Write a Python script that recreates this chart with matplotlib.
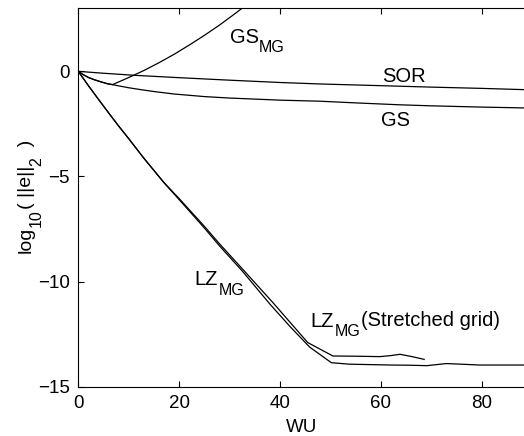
import matplotlib
matplotlib.use("Agg")
import matplotlib.pyplot as plt

plt.rcParams['font.family'] = ['Liberation Sans', 'DejaVu Sans']

# SOR
sor_x = [0, 5, 11.3, 19.1, 30, 40, 47.9, 59.8, 70, 80, 88.4]
sor_y = [0, -0.09, -0.19, -0.29, -0.42, -0.53, -0.60, -0.68, -0.75, -0.81, -0.87]

# GS
gs_x = [0, 1, 2, 3.2, 4.5, 5.8, 7.8, 10, 12.4, 15, 19.1, 25, 30, 40, 47.9, 55, 59.8, 63.6, 70, 80, 88.4]
gs_y = [0, -0.16, -0.29, -0.40, -0.50, -0.59, -0.68, -0.78, -0.87, -0.96, -1.08, -1.20, -1.27,
        -1.37, -1.42, -1.50, -1.55, -1.59, -1.64, -1.70, -1.74]

# GS multigrid
gsmg_x = [0, 1, 2, 3.2, 4.5, 5.8, 6.8, 9, 11, 13, 16, 19, 22, 25, 28, 31, 34]
gsmg_y = [0, -0.16, -0.29, -0.40, -0.50, -0.59, -0.63, -0.40, -0.185, 0.04, 0.41, 0.81, 1.25,
          1.71, 2.20, 2.73, 3.28]

# LZ multigrid
lz_x = [0, 2, 4, 6, 8, 10, 12.9, 14.1, 17, 20, 25, 28, 32.6, 38, 42, 45.9, 50.2, 53.8, 58, 62,
        66, 69.1, 73, 76, 79.6, 84, 88.4]
lz_y = [0, -0.68, -1.33, -1.97, -2.6, -3.2, -4.1, -4.45, -5.3, -6.1, -7.45, -8.3, -9.52, -11.07,
        -12.14, -13.12, -13.86, -13.93, -13.95, -13.97, -13.98, -14.0, -13.9, -13.93, -13.97, -13.97,
        -13.97]

# LZ multigrid, stretched grid
lzs_x = [0, 2, 4, 6, 8, 10, 12.9, 14.1, 17, 20, 25, 28, 32.6, 38.6, 45.5, 50.5, 55, 59.8, 62,
         63.8, 66, 68.6]
lzs_y = [0, -0.68, -1.33, -1.97, -2.6, -3.2, -4.1, -4.45, -5.29, -6.05, -7.37, -8.2, -9.41, -11.0,
         -12.9, -13.54, -13.55, -13.57, -13.52, -13.46, -13.56, -13.7]

fig = plt.figure(figsize=(5.24, 4.36), dpi=100)
ax = fig.add_axes([0.1494, 0.1131, 0.8506, 0.8679])

lw = 0.9
ax.plot(sor_x, sor_y, color='black', lw=lw)
ax.plot(gs_x, gs_y, color='black', lw=lw)
ax.plot(gsmg_x, gsmg_y, color='black', lw=lw)
ax.plot(lz_x, lz_y, color='black', lw=lw)
ax.plot(lzs_x, lzs_y, color='black', lw=lw)

fs = 14.5
sub_fs = 11.5


def label(x, y, main, sub=None, tail=None):
    t = ax.text(x, y, main, fontsize=fs, va='baseline')
    if sub is None:
        return
    s = ax.annotate(sub, xy=(1, 0), xycoords=t, xytext=(0.5, -4.2),
                    textcoords='offset points', fontsize=sub_fs, va='baseline')
    if tail is not None:
        ax.annotate(tail, xy=(1, 0), xycoords=s, xytext=(0, 9.6),
                    textcoords='offset points', fontsize=fs, va='baseline')


label(30.0, 1.37, 'GS', 'MG')
label(60.2, -0.49, 'SOR')
label(60.1, -2.62, 'GS')
label(23.0, -10.16, 'LZ', 'MG')
label(46.1, -12.14, 'LZ', 'MG', '(Stretched grid)')

ax.set_xlim(0, 88.4)
ax.set_ylim(-15, 3)
ax.set_xticks([0, 20, 40, 60, 80])
ax.set_yticks([-15, -10, -5, 0])
ax.tick_params(direction='in', top=True, right=False, length=4, labelsize=13.5, pad=6)
ax.spines['right'].set_visible(False)
for s in ['left', 'top', 'bottom']:
    ax.spines[s].set_linewidth(0.8)

ax.set_xlabel('WU', fontsize=13.5, labelpad=5)

# y label built from pieces so the subscripts match the reference size
ylab_fs = 14
ylab_sub = 11.5
x_r = 35 / 524
pieces = [('log', False), ('10', True), ('( ||e||', False), ('2', True), ('  )', False)]
prev = None
for txt, is_sub in pieces:
    size = ylab_sub if is_sub else ylab_fs
    dx = 6.6 if is_sub else 0
    if prev is None:
        prev = fig.text(x_r, 0.4197, txt, rotation=90, ha='right', va='bottom', fontsize=size)
    else:
        prev = ax.annotate(txt, xy=(x_r, 1), xycoords=('figure fraction', prev),
                           xytext=(dx, 0), textcoords='offset points', rotation=90,
                           ha='right', va='bottom', fontsize=size, annotation_clip=False)

fig.savefig('out.png', dpi=100)
